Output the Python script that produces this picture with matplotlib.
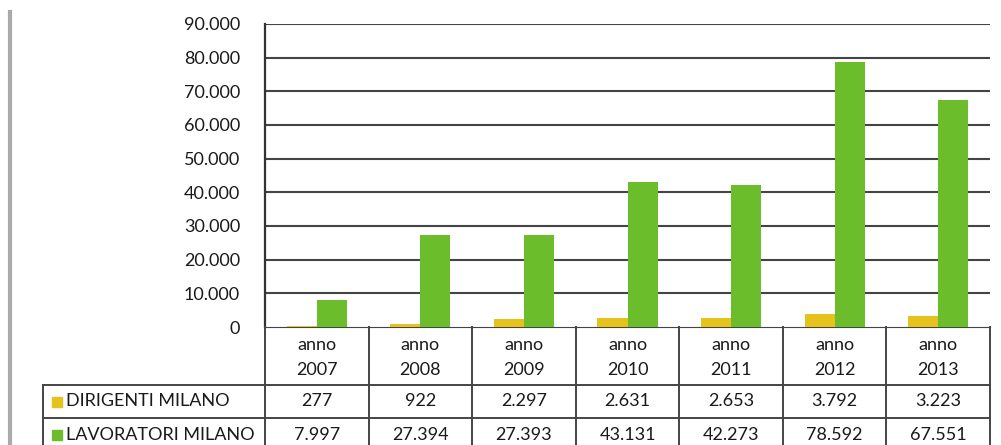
import matplotlib.pyplot as plt
from matplotlib.ticker import FuncFormatter

plt.rcParams['font.family'] = ['Lato', 'DejaVu Sans']

years = ['2007', '2008', '2009', '2010', '2011', '2012', '2013']
dirigenti = [277, 922, 2297, 2631, 2653, 3792, 3223]
lavoratori = [7997, 27394, 27393, 43131, 42273, 78592, 67551]
series_names = ['DIRIGENTI MILANO', 'LAVORATORI MILANO']
yticks = [0, 10000, 20000, 30000, 40000, 50000, 60000, 70000, 80000, 90000]

YELLOW = '#E6C21C'
GREEN = '#6CBD2B'
LINE = '#444444'
TXT = '#1a1a1a'


def it_fmt(v):
    return f'{int(v):,}'.replace(',', '.')


def main():
    W, H = 1001, 445
    fig = plt.figure(figsize=(W / 100, H / 100), dpi=100)

    # bar chart
    x0, x1, y0, y1 = 265, 990, 327, 24
    ax = fig.add_axes([x0 / W, 1 - y0 / H, (x1 - x0) / W, (y0 - y1) / H])
    pos = list(range(len(years)))
    bw = 0.29
    ax.bar([p - bw / 2 for p in pos], dirigenti, width=bw, color=YELLOW, zorder=3)
    ax.bar([p + bw / 2 for p in pos], lavoratori, width=bw, color=GREEN, zorder=3)
    for v in yticks[1:]:
        ax.axhline(v, color=LINE, lw=1.5, zorder=2)
    ax.set_xlim(-0.5, len(years) - 0.5)
    ax.set_ylim(0, 90000)
    ax.set_yticks(yticks)
    ax.yaxis.set_major_formatter(FuncFormatter(lambda v, p: it_fmt(v)))
    ax.set_xticks([])
    ax.tick_params(axis='y', length=0, pad=18, labelsize=13, labelcolor=TXT)
    ax.spines['right'].set_visible(False)
    ax.spines['top'].set_visible(False)
    ax.spines['bottom'].set_color(LINE)
    ax.spines['left'].set_color('#333333')
    ax.spines['left'].set_linewidth(1.6)

    # table below the plot: text and lines in figure pixel units
    def fx(px):
        return px / W

    def fy(py):
        return 1 - py / H

    colw = (x1 - x0) / len(years)
    tl = 43
    rows = [327, 385, 418, 451]
    lw = 1.4
    for r in rows[1:]:
        fig.add_artist(plt.Line2D([fx(tl), fx(x1)], [fy(r), fy(r)], color=LINE, lw=lw))
    fig.add_artist(plt.Line2D([fx(tl), fx(tl)], [fy(rows[1]), fy(rows[3])], color=LINE, lw=lw))
    for i in range(len(years) + 1):
        xx = fx(x0 + i * colw)
        fig.add_artist(plt.Line2D([xx, xx], [fy(rows[0]), fy(rows[3])], color=LINE, lw=lw))

    fs = 13
    for i, yr in enumerate(years):
        cx = fx(x0 + (i + 0.5) * colw)
        fig.text(cx, fy(345), 'anno', ha='center', va='center', fontsize=fs, color=TXT)
        fig.text(cx, fy(370), yr, ha='center', va='center', fontsize=fs, color=TXT)
        fig.text(cx, fy((rows[1] + rows[2]) / 2), it_fmt(dirigenti[i]),
                 ha='center', va='center', fontsize=fs, color=TXT)
        fig.text(cx, fy(435), it_fmt(lavoratori[i]),
                 ha='center', va='center', fontsize=fs, color=TXT)

    for name, col, cy in zip(series_names, [YELLOW, GREEN],
                             [(rows[1] + rows[2]) / 2, 435]):
        fig.add_artist(plt.Rectangle((fx(52), fy(cy + 5)), 10 / W, 10 / H, color=col))
        fig.text(fx(66), fy(cy), name, ha='left', va='center', fontsize=fs, color=TXT)

    # grey frame line on the far left
    fig.add_artist(plt.Line2D([fx(10), fx(10)], [0, fy(12)], color='#AAAAAA', lw=3))

    fig.savefig('out.png', dpi=100)


if __name__ == '__main__':
    main()
